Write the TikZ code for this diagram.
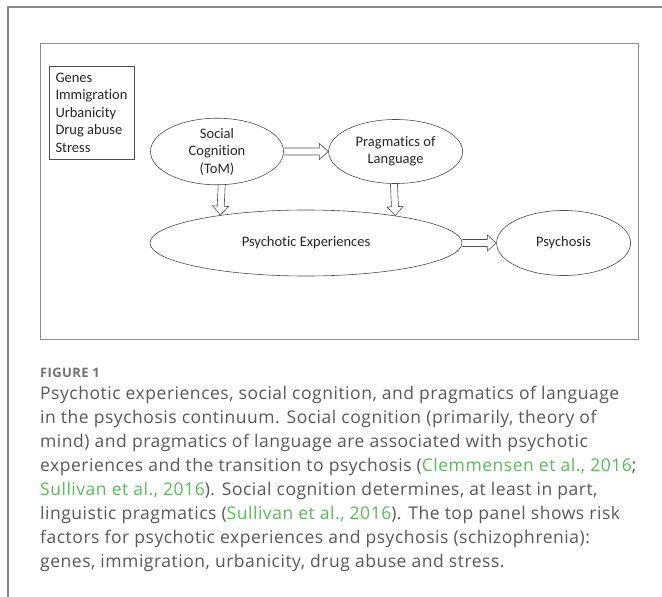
\documentclass[tikz,border=0pt]{standalone}
\usepackage{fontspec}
\setmainfont{Carlito}[Ligatures=NoCommon]
\newfontfamily\captionfont{Open Sans}[LetterSpace=3]
\usetikzlibrary{calc,positioning,shapes.geometric}
\definecolor{framegray}{RGB}{135,135,135}
\definecolor{capgray}{RGB}{88,88,88}
\definecolor{refgreen}{RGB}{92,184,92}
\newcommand{\refcite}[1]{\textcolor{refgreen}{#1}}

\begin{document}
\begin{tikzpicture}[
  x=1pt, y=-1pt,
  node distance=5mm,
  ell/.style={draw=black!70, ellipse, line width=0.6pt, align=center, inner sep=0pt,
              font=\fontsize{14.5}{17.5}\selectfont, text=black!85},
  riskbox/.style={draw=black!70, line width=0.6pt, align=left, inner sep=0pt,
                  minimum width=85pt, minimum height=93pt,
                  font=\fontsize{14.5}{17.5}\selectfont, text=black!85},
  panel/.style={draw=black!45, line width=1pt, minimum width=598pt, minimum height=296pt},
  hollow/.style={draw=black!70, line width=0.6pt, to path={
      ($(\tikztostart)!3.5pt!90:(\tikztotarget)$)
      -- ($($(\tikztotarget)!9pt!(\tikztostart)$)!3.5pt!90:(\tikztotarget)$)
      -- ($($(\tikztotarget)!9pt!(\tikztostart)$)!8pt!90:(\tikztotarget)$)
      -- (\tikztotarget)
      -- ($($(\tikztotarget)!9pt!(\tikztostart)$)!8pt!-90:(\tikztotarget)$)
      -- ($($(\tikztotarget)!9pt!(\tikztostart)$)!3.5pt!-90:(\tikztotarget)$)
      -- ($(\tikztostart)!3.5pt!-90:(\tikztotarget)$)}},
  capbold/.style={font=\captionfont\bfseries\fontsize{13}{15}\selectfont, text=capgray!85, inner sep=0pt},
  captext/.style={font=\captionfont\fontsize{17.5}{24}\selectfont, text=capgray, align=left, inner sep=0pt}
]
\useasboundingbox (0,0) rectangle (662,597);

% page frame
\draw[framegray, line width=1.5pt] (8,597) |- (662,7);

\node[panel] (panel) at (339,191) {};
\node[riskbox] (risk) at (91.5,112.5) {Genes\\Immigration\\Urbanicity\\Drug abuse\\Stress};

\node[ell, minimum width=133pt, minimum height=66pt] (soc) at (217,151.5) {Social\\Cognition\\(ToM)};
\node[ell, minimum width=134pt, minimum height=64pt, right=44.5pt of soc] (prag) {Pragmatics of\\Language};
\node[ell, minimum width=312pt, minimum height=66pt] (psyexp) at (306,243) {Psychotic Experiences};
\node[ell, minimum width=134pt, minimum height=65pt, right=34pt of psyexp] (psy) {Psychosis};

\draw[hollow] (soc.east) to (prag.west);
\draw[hollow] (soc.-82) to (psyexp.162);
\draw[hollow] (prag.-93.5) to (psyexp.17.5);
\draw[hollow] (psyexp.east) to (psy.west);

% caption
\node[capbold, anchor=base west] (fig) at (40,377) {FIGURE 1};
\node[captext, anchor=north west] (cap) at (40,386) {Psychotic experiences, social cognition, and pragmatics of language\\
in the psychosis continuum. Social cognition (primarily, theory of\\
mind) and pragmatics of language are associated with psychotic\\
experiences and the transition to psychosis (\refcite{Clemmensen et al., 2016};\\
\refcite{Sullivan et al., 2016}). Social cognition determines, at least in part,\\
linguistic pragmatics (\refcite{Sullivan et al., 2016}). The top panel shows risk\\
factors for psychotic experiences and psychosis (schizophrenia):\\
genes, immigration, urbanicity, drug abuse and stress.};
\end{tikzpicture}
\end{document}
